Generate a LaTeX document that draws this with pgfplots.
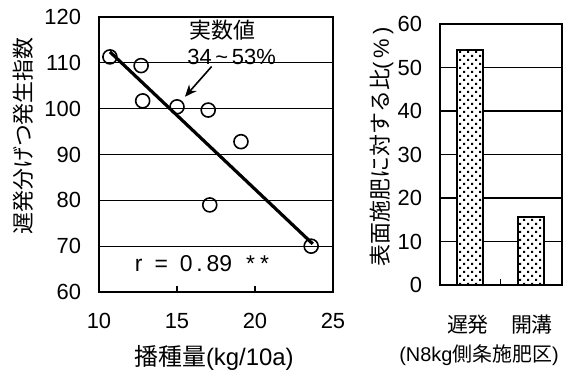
\documentclass[border=0pt]{standalone}
\usepackage{fontspec}
\setmainfont{Liberation Sans}
\newfontfamily\jp{Noto Sans CJK JP}
\usepackage{pgfplots}
\pgfplotsset{compat=1.18}
\usetikzlibrary{patterns,arrows.meta}
\pgfdeclarepatternformonly{mydots}{\pgfqpoint{-1bp}{-1bp}}{\pgfqpoint{5bp}{5bp}}{\pgfqpoint{4bp}{4bp}}{%
  \pgfpathrectangle{\pgfqpoint{-0.5bp}{-0.5bp}}{\pgfqpoint{1bp}{1bp}}%
  \pgfpathrectangle{\pgfqpoint{1.5bp}{1.5bp}}{\pgfqpoint{1bp}{1bp}}%
  \pgfusepath{fill}}
\begin{document}
\begin{tikzpicture}[x=1bp,y=1bp]
\path[use as bounding box] (0,0) rectangle (288,188);
\pgfplotsset{
  common/.style={
    scale only axis,
    anchor=south west,
    /pgf/number format/assume math mode=true,
    ticklabel style={font=\fontsize{11}{13}\selectfont},
    axis line style={line width=1.2bp},
    ymajorgrids,
    major grid style={black, line width=0.6bp},
    tick align=inside,
    xtick pos=bottom, ytick pos=left,
    y tick style={draw=none},
    x tick style={black, line width=0.7bp},
    major tick length=3bp,
    yticklabel style={xshift=-5.5bp},
  }
}
\begin{axis}[common,
  at={(49.5bp,42bp)}, width=117bp, height=137.5bp,
  xmin=10, xmax=25, ymin=60, ymax=120,
  xtick={10,15,20,25}, ytick={60,70,...,120},
  xticklabel style={yshift=-7bp},
  clip=false]
\addplot[only marks, mark=o, mark size=3.5bp, mark options={line width=0.8bp, fill=white, draw=black}]
  coordinates {(10.7,111.3) (12.7,109.4) (12.8,101.7) (15.0,100.4) (17.0,99.7) (19.1,92.8) (17.1,79.0) (23.6,70.0)};
\addplot[black, line width=1.6bp] coordinates {(10.7,112.4) (23.7,70.5)};
\draw[-{Stealth[length=6bp,width=5bp]}, line width=0.8bp] (axis cs:17.22,109.2) -- (axis cs:15.51,102.6);
\node[font=\jp\fontsize{11}{13}\selectfont] at (axis cs:17.9,117.2) {実数値};
\node[font=\fontsize{11}{13}\selectfont] at (axis cs:18.5,111.2) {34\,\textasciitilde\,53\%};
\node[font=\fontsize{11.5}{13}\selectfont] at (axis cs:16.6,66.3) {r\hspace{6bp}=\hspace{6bp}0\,.\,89\hspace{7bp}*\hspace{2.5bp}*};
\end{axis}
\begin{axis}[common,
  at={(220bp,45.5bp)}, width=61bp, height=130.5bp,
  xmin=-0.49, xmax=1.51, ymin=0, ymax=60,
  ytick={0,10,...,60},
  xtick={0.5}, xticklabels={},
  clip=false]
\addplot[ybar, bar width=13bp, draw=black, line width=0.8bp, fill=white, postaction={pattern=mydots}]
  coordinates {(0,54.0) (1,15.7)};
\end{axis}
\node[rotate=90, font=\jp\fontsize{11}{13}\selectfont] at (11.5,120) {遅発分げつ発生指数};
\node[font=\fontsize{12}{14}\selectfont] at (107,9) {{\jp 播種量}(kg/10a)};
\node[rotate=90, font=\fontsize{11}{13}\selectfont] at (191,114.5) {{\jp 表面施肥に対する比}(\,\%\,)};
\node[font=\jp\fontsize{10.5}{13}\selectfont] at (234,25.5) {遅発};
\node[font=\jp\fontsize{10.5}{13}\selectfont] at (266,25.5) {開溝};
\node[font=\fontsize{10}{12}\selectfont] at (239.5,10.5) {(N8kg{\jp 側条施肥区})};
\end{tikzpicture}
\end{document}
